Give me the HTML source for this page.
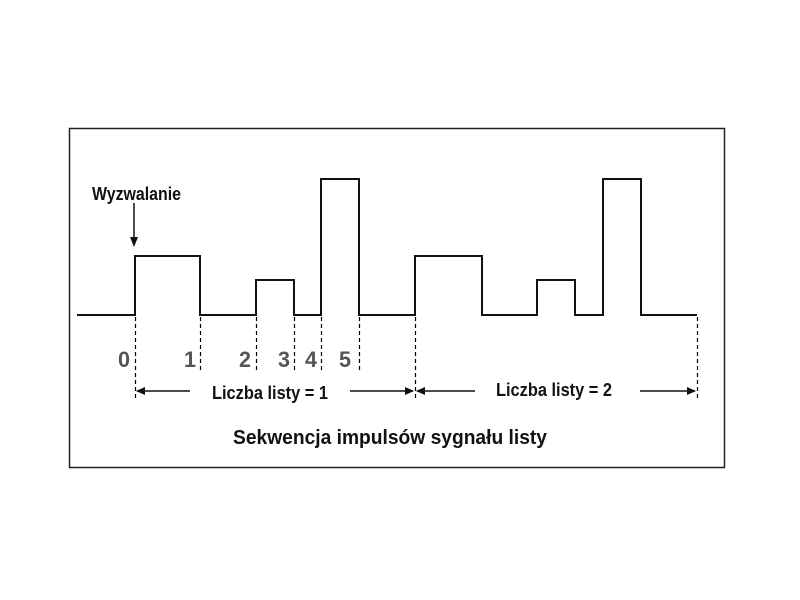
<!DOCTYPE html>
<html><head><meta charset="utf-8"><style>html,body{margin:0;padding:0;background:#fff}svg{display:block}</style></head>
<body>
<svg width="800" height="600" xmlns="http://www.w3.org/2000/svg" font-family="Liberation Sans, sans-serif" font-weight="bold">
<rect x="69.5" y="128.5" width="655" height="339" fill="none" stroke="#222" stroke-width="1.5"/>
<path d="M77 315 H135 V256 H200 V315 H256 V280 H294 V315 H321 V179 H359 V315 H415 V256 H482 V315 H537 V280 H575 V315 H603 V179 H641 V315 H697" fill="none" stroke="#111" stroke-width="2"/>
<g stroke="#000" stroke-width="1.2" stroke-dasharray="4,3">
<line x1="135.5" y1="317" x2="135.5" y2="400"/>
<line x1="200.5" y1="317" x2="200.5" y2="373"/>
<line x1="256.5" y1="317" x2="256.5" y2="373"/>
<line x1="294.5" y1="317" x2="294.5" y2="373"/>
<line x1="321.5" y1="317" x2="321.5" y2="373"/>
<line x1="359.5" y1="317" x2="359.5" y2="373"/>
<line x1="415.5" y1="317" x2="415.5" y2="400"/>
<line x1="697.5" y1="317" x2="697.5" y2="400"/>
</g>
<g stroke="#111" stroke-width="1.5">
<line x1="137" y1="391" x2="190" y2="391"/>
<line x1="350" y1="391" x2="413" y2="391"/>
<line x1="417" y1="391" x2="475" y2="391"/>
<line x1="640" y1="391" x2="695" y2="391"/>
<line x1="134" y1="203" x2="134" y2="240"/>
</g>
<g fill="#111">
<polygon points="136,391 145,387 145,395"/>
<polygon points="414,391 405,387 405,395"/>
<polygon points="416,391 425,387 425,395"/>
<polygon points="696,391 687,387 687,395"/>
<polygon points="134,247 130,237 138,237"/>
</g>
<text x="92" y="200" font-size="18" textLength="89" lengthAdjust="spacingAndGlyphs" fill="#111">Wyzwalanie</text>
<g font-size="22" fill="#555">
<text x="118" y="367" textLength="12" lengthAdjust="spacingAndGlyphs">0</text>
<text x="184" y="367" textLength="12" lengthAdjust="spacingAndGlyphs">1</text>
<text x="239" y="367" textLength="12" lengthAdjust="spacingAndGlyphs">2</text>
<text x="278" y="367" textLength="12" lengthAdjust="spacingAndGlyphs">3</text>
<text x="305" y="367" textLength="12" lengthAdjust="spacingAndGlyphs">4</text>
<text x="339" y="367" textLength="12" lengthAdjust="spacingAndGlyphs">5</text>
</g>
<text x="212" y="399" font-size="18" textLength="116" lengthAdjust="spacingAndGlyphs" fill="#111">Liczba listy = 1</text>
<text x="496" y="396" font-size="18" textLength="116" lengthAdjust="spacingAndGlyphs" fill="#111">Liczba listy = 2</text>
<text x="233" y="444" font-size="20" textLength="314" lengthAdjust="spacingAndGlyphs" fill="#111">Sekwencja impulsów sygnału listy</text>
</svg>
</body></html>
